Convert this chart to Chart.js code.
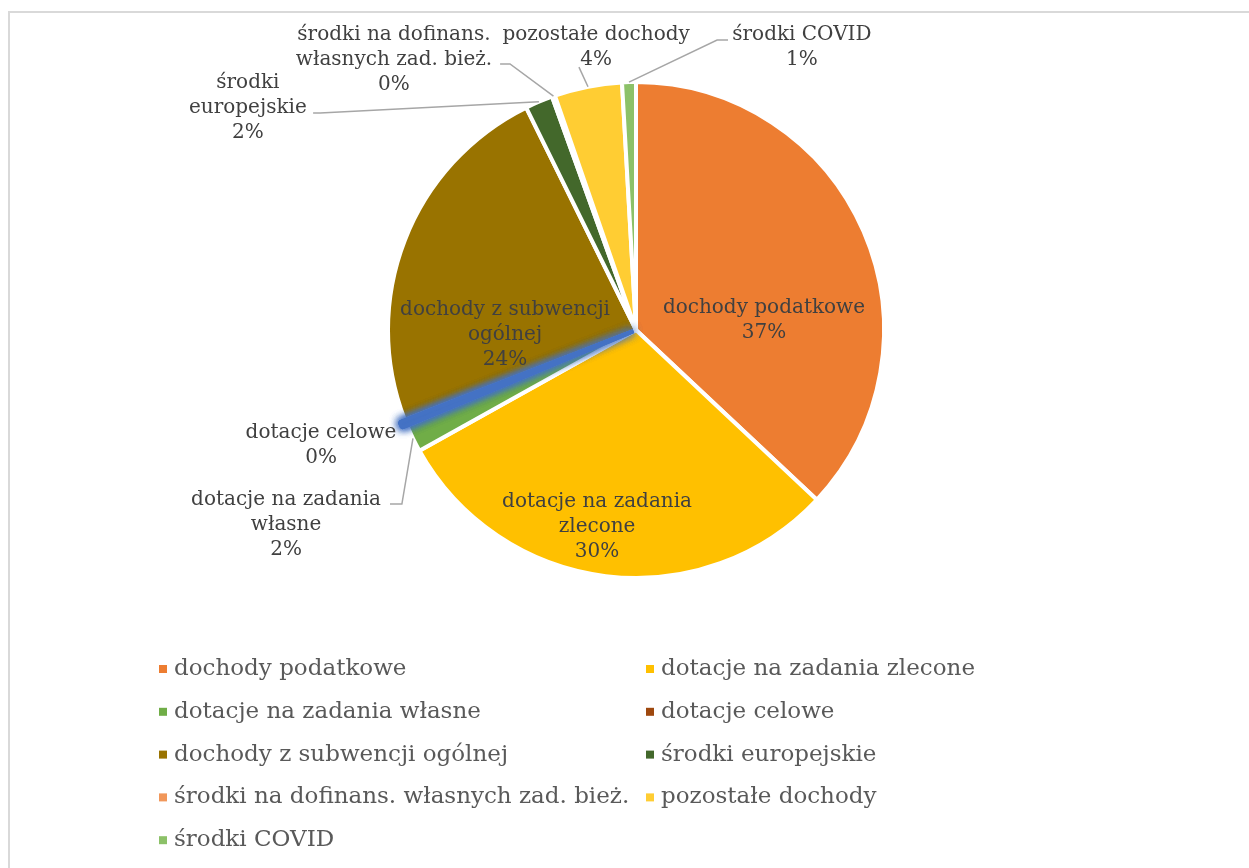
<!DOCTYPE html>
<html>
<head>
  <meta charset="utf-8">
  <title>Struktura dochodów</title>
  <script src="https://cdn.jsdelivr.net/npm/chart.js@4.4.0/dist/chart.umd.min.js"></script>
  <style>
    html, body { margin: 0; padding: 0; background: #fff; }
  </style>
</head>
<body>
  <canvas id="pie" width="1249" height="868"></canvas>

  <script>
    // dane (udział w %)
    const categories = [
      'dochody podatkowe', 'dotacje na zadania zlecone', 'dotacje na zadania własne',
      'dotacje celowe', 'dochody z subwencji ogólnej', 'środki europejskie',
      'środki na dofinans. własnych zad. bież.', 'pozostałe dochody', 'środki COVID'
    ];
    const values = [37.0, 29.9, 1.8, 0.4, 23.6, 1.8, 0.2, 4.4, 0.9];

    // etykiety na wykresie, łamane jak w oryginale
    const labelLines = [
      ['dochody podatkowe'],
      ['dotacje na zadania', 'zlecone'],
      ['dotacje na zadania', 'własne'],
      ['dotacje celowe'],
      ['dochody z subwencji', 'ogólnej'],
      ['środki', 'europejskie'],
      ['środki na dofinans.', 'własnych zad. bież.'],
      ['pozostałe dochody'],
      ['środki COVID']
    ];

    const legendColors = ['#ED7D31', '#FFC000', '#70AD47', '#9E480E', '#997300',
                          '#43682B', '#F1975A', '#FFCD33', '#8CC168'];
    // wycinek "dotacje celowe" jest zaznaczony (niebieska poświata)
    const sliceColors = legendColors.map((c, i) => i === 3 ? '#4472C4' : c);
    const sliceOffsets = [0, 0, 0, 11, 0, 0, 0, 0, 0];

    // położenie etykiet względem środka koła, w promieniach
    const labelPos = [
      [0.516, -0.089], [-0.157, 0.694], [-1.411, 0.685], [-1.270, 0.415], [-0.528, -0.081],
      [-1.565, -0.996], [-0.976, -1.190], [-0.161, -1.190], [0.669, -1.190]
    ];
    // linie odniesienia: [kolanko x, kolanko y, koniec x]
    const leaders = [
      null, null, [-0.944, 0.702, -0.992], null, null,
      [-1.274, -0.875, -1.302], [-0.508, -1.073, -0.548], [-0.230, -1.060, -0.230], [0.327, -1.169, 0.371]
    ];

    const FONT = '"DejaVu Serif", "Liberation Serif", serif';
    const total = values.reduce((a, b) => a + b, 0);

    const framePlugin = {
      id: 'frame',
      beforeDraw(chart) {
        const ctx = chart.ctx;
        ctx.save();
        ctx.fillStyle = '#fff';
        ctx.fillRect(0, 0, chart.width, chart.height);
        ctx.strokeStyle = '#d9d9d9';
        ctx.lineWidth = 2;
        ctx.beginPath();
        ctx.moveTo(9, chart.height);
        ctx.lineTo(9, 12);
        ctx.lineTo(chart.width, 12);
        ctx.stroke();
        ctx.restore();
      }
    };

    const glowPlugin = {
      id: 'glow',
      afterDatasetsDraw(chart) {
        const arc = chart.getDatasetMeta(0).data[3];
        const ctx = chart.ctx;
        const saved = arc.options.borderColor;
        arc.options.borderColor = '#4472C4';
        ctx.save();
        ctx.shadowColor = 'rgba(68,114,196,0.9)';
        ctx.shadowBlur = 9;
        for (let k = 0; k < 3; k++) arc.draw(ctx);
        ctx.restore();
        arc.options.borderColor = saved;
      }
    };

    const labelPlugin = {
      id: 'sliceLabels',
      afterDatasetsDraw(chart) {
        const ctx = chart.ctx;
        const arcs = chart.getDatasetMeta(0).data;
        ctx.save();
        arcs.forEach((arc, i) => {
          const { x, y, startAngle, endAngle, outerRadius: r } = arc.getProps(['x', 'y', 'startAngle', 'endAngle', 'outerRadius'], true);
          const ld = leaders[i];
          if (ld) {
            const mid = (startAngle + endAngle) / 2;
            ctx.strokeStyle = '#a6a6a6';
            ctx.lineWidth = 1.5;
            ctx.beginPath();
            ctx.moveTo(x + Math.cos(mid) * r, y + Math.sin(mid) * r);
            ctx.lineTo(x + ld[0] * r, y + ld[1] * r);
            ctx.lineTo(x + ld[2] * r, y + ld[1] * r);
            ctx.stroke();
          }
          const lines = labelLines[i].concat([Math.round(values[i] / total * 100) + '%']);
          const lx = x + labelPos[i][0] * r;
          const ly = y + labelPos[i][1] * r;
          ctx.fillStyle = '#404040';
          ctx.font = '20px ' + FONT;
          ctx.textAlign = 'center';
          ctx.textBaseline = 'middle';
          lines.forEach((t, k) => ctx.fillText(t, lx, ly + k * 25));
        });
        ctx.restore();
      }
    };

    // legenda w dwóch kolumnach, jak w Excelu
    const legendPlugin = {
      id: 'twoColLegend',
      afterDraw(chart) {
        const ctx = chart.ctx;
        const colX = [159, 646];
        const top = 669, step = 42.8;
        ctx.save();
        ctx.font = '23px ' + FONT;
        ctx.textAlign = 'left';
        ctx.textBaseline = 'middle';
        categories.forEach((name, i) => {
          const cx = colX[i % 2];
          const cy = top + Math.floor(i / 2) * step;
          ctx.fillStyle = legendColors[i];
          ctx.fillRect(cx, cy - 4, 8, 8);
          ctx.fillStyle = '#595959';
          ctx.fillText(name, cx + 15, cy);
        });
        ctx.restore();
      }
    };

    new Chart(document.getElementById('pie'), {
      type: 'pie',
      data: {
        labels: categories,
        datasets: [{
          data: values,
          backgroundColor: sliceColors,
          borderColor: '#ffffff',
          borderWidth: 4,
          offset: sliceOffsets,
          radius: 248
        }]
      },
      options: {
        responsive: false,
        animation: false,
        layout: { padding: { left: 123, right: 100, top: 40, bottom: 248 } },
        plugins: {
          legend: { display: false },
          tooltip: { enabled: false }
        }
      },
      plugins: [framePlugin, glowPlugin, labelPlugin, legendPlugin]
    });
  </script>
</body>
</html>
